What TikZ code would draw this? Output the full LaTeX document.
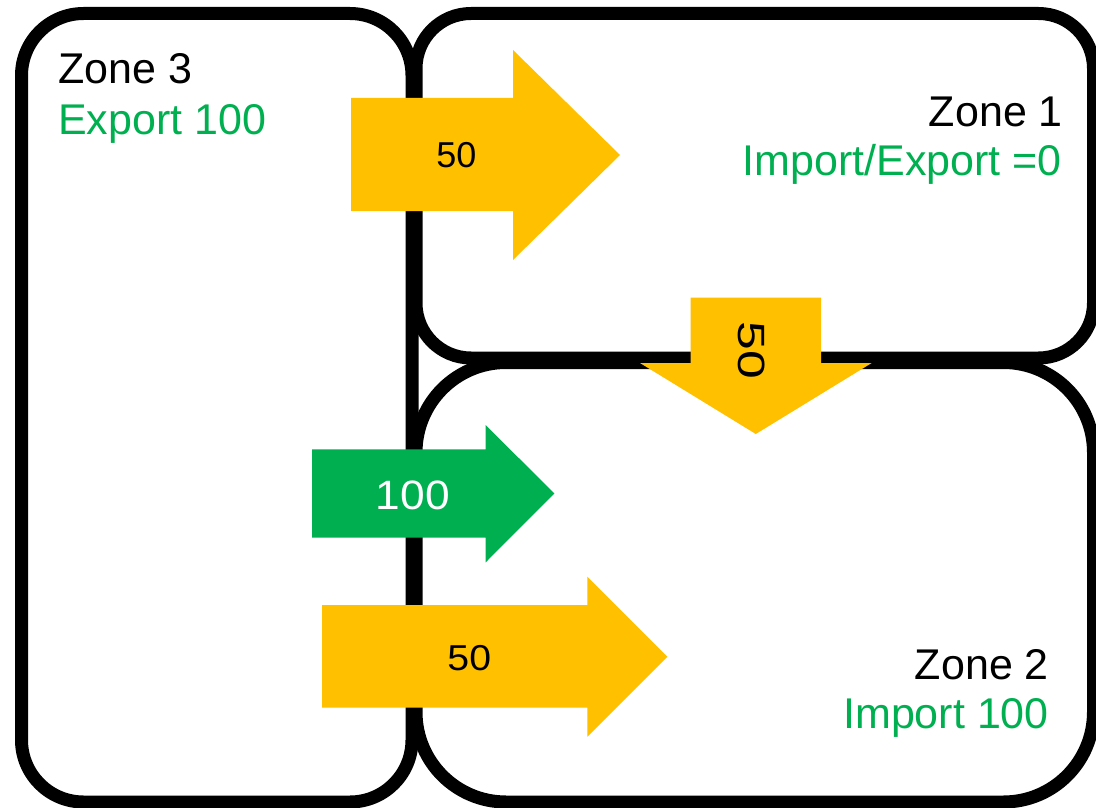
\documentclass[tikz,border=0pt]{standalone}
\usepackage{fontspec}
\setmainfont{Liberation Sans}
\definecolor{flowyellow}{HTML}{FFC000}
\definecolor{flowgreen}{HTML}{00B050}
\begin{document}
\begin{tikzpicture}[x=1pt,y=-1pt,
  zone/.style={line width=13pt, draw=black},
  zonename/.style={inner sep=0pt, font=\fontsize{43}{51}\selectfont, text=black},
  zonebalance/.style={inner sep=0pt, font=\fontsize{43}{51}\selectfont, text=flowgreen},
  flowlabel/.style={inner sep=0pt, font=\fontsize{36}{43}\selectfont},
  yellowflow/.style={fill=flowyellow},
  greenflow/.style={fill=flowgreen}]
\fill[white] (0,0) rectangle (1096,808);
\useasboundingbox (0,0) rectangle (1096,808);
\clip (0,0) rectangle (1096,808);

% zone outlines
\draw[zone, rounded corners=62pt] (21.5,13.5) rectangle (412,802);
\draw[zone, rounded corners=55pt] (416,13.5) rectangle (1093.5,358);
\draw[zone, rounded corners=90pt] (416,362.5) rectangle (1093.5,802);

% zone texts
\node[zonename, anchor=base west] (z3name) at (58,83.3) {Zone 3};
\node[zonebalance, anchor=base west] (z3bal) at (58,135) {Export 100};
\node[zonename, anchor=base east] (z1name) at (1063,126.7) {Zone 1};
\node[zonebalance, anchor=base east] (z1bal) at (1062,175.7) {Import/Export =0};
\node[zonename, anchor=base east] (z2name) at (1049,679) {Zone 2};
\node[zonebalance, anchor=base east] (z2bal) at (1049,728.3) {Import 100};

% flow arrows
\fill[yellowflow] (351,98) -- (513,98) -- (513,50) -- (620,155) -- (513,260)
  -- (513,211) -- (351,211) -- cycle;
\fill[yellowflow] (690.7,297.7) -- (821,297.7) -- (821,363) -- (871.7,363)
  -- (755.8,434) -- (640,363) -- (690.7,363) -- cycle;
\fill[greenflow] (312,449.3) -- (485.7,449.3) -- (485.7,425) -- (554.3,493.5)
  -- (485.7,562.3) -- (485.7,537.7) -- (312,537.7) -- cycle;
\fill[yellowflow] (322,605) -- (587.3,605) -- (587.3,576.7) -- (667.3,656.7)
  -- (587.3,736.7) -- (587.3,707.7) -- (322,707.7) -- cycle;

% flow amounts
\node[flowlabel] (f31) at (456.5,155.5) {50};
\node[flowlabel, font=\fontsize{38}{45}\selectfont, rotate=-90] (f12) at (751.5,350.3) {\scalebox{1.36}[1]{50}};
\node[flowlabel, font=\fontsize{41}{49}\selectfont, text=white] (f32g) at (412.7,495.3) {\scalebox{1.08}[1]{100}};
\node[flowlabel] (f32y) at (469.3,658) {\scalebox{1.09}[1]{50}};
\end{tikzpicture}
\end{document}
